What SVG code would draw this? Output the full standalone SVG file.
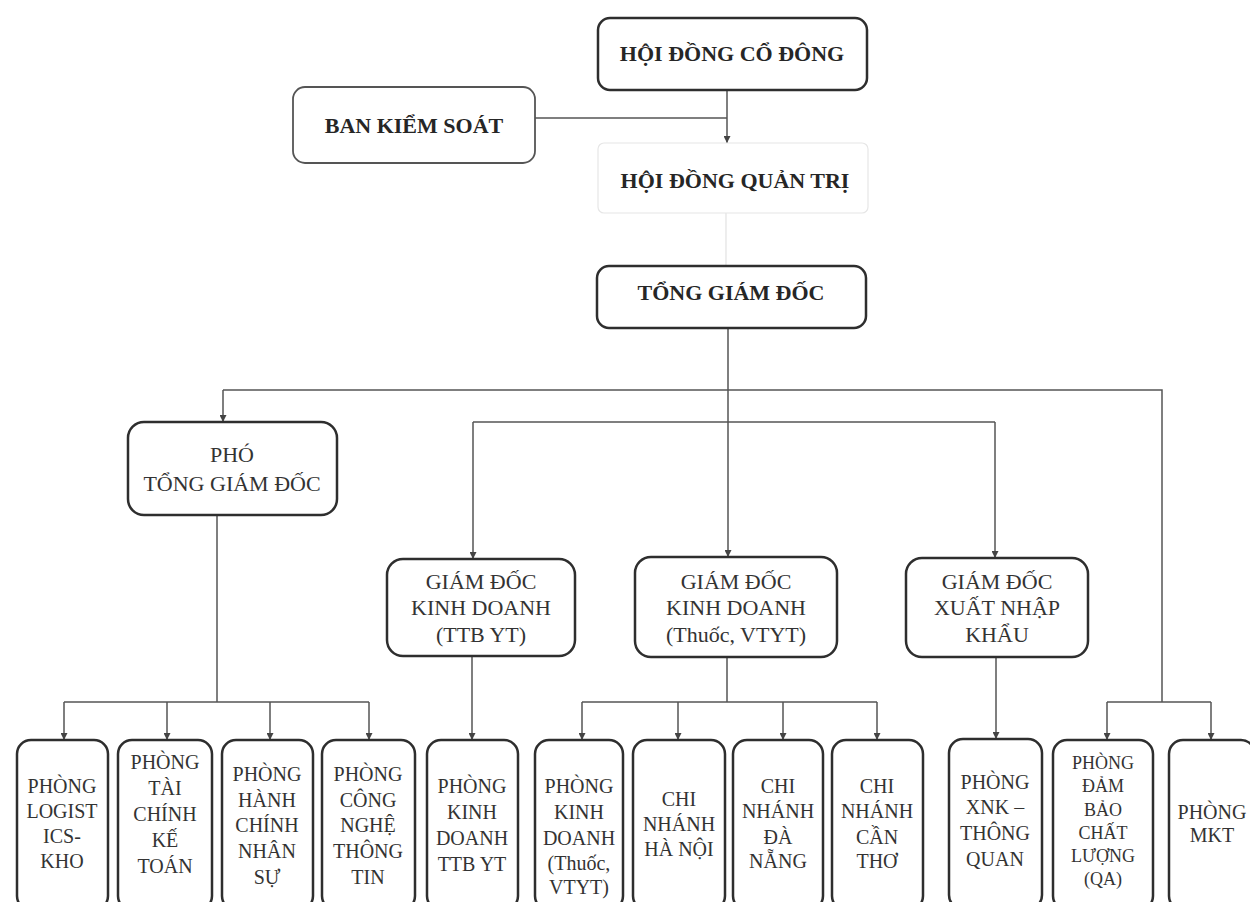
<svg xmlns="http://www.w3.org/2000/svg" width="1250" height="902" viewBox="0 0 1250 902">
<defs>
<style>
.box{fill:#fff;stroke:#2e2e2e;stroke-width:2.5}
.faint{fill:#fff;stroke:#e6e6e6;stroke-width:1.2}
.tb{font-family:"Liberation Serif","Times New Roman",serif;font-weight:bold;font-size:22px;fill:#262626;text-anchor:middle}
.tm{font-family:"Liberation Serif","Times New Roman",serif;font-size:22px;fill:#333;text-anchor:middle}
.ts{font-family:"Liberation Serif","Times New Roman",serif;font-size:20px;fill:#333;text-anchor:middle}
.tq{font-family:"Liberation Serif","Times New Roman",serif;font-size:18px;fill:#333;text-anchor:middle}
.ln{fill:none;stroke:#555;stroke-width:1.5}
.lf{fill:none;stroke:#e2e2e2;stroke-width:1.2}
</style>
<marker id="arr" viewBox="0 0 10 10" refX="10" refY="5" markerWidth="7" markerHeight="7" markerUnits="userSpaceOnUse" orient="auto">
<path d="M0,0 L10,5 L0,10 z" fill="#444"/>
</marker>
</defs>
<rect width="1250" height="902" fill="#fff"/>

<g id="connectors">
<path class="ln" d="M727,90 V143" marker-end="url(#arr)"/>
<path class="ln" d="M535,118 H727"/>
<path class="lf" d="M726,213 V266"/>
<path class="ln" d="M728,328 V557" marker-end="url(#arr)"/>
<path class="ln" d="M223,390 H1162 V702"/>
<path class="ln" d="M223,390 V422" marker-end="url(#arr)"/>
<path class="ln" d="M473,422 H995"/>
<path class="ln" d="M473,422 V559" marker-end="url(#arr)"/>
<path class="ln" d="M995,422 V558" marker-end="url(#arr)"/>
<path class="ln" d="M217,515 V702"/>
<path class="ln" d="M64,702 H369"/>
<path class="ln" d="M64,702 V740" marker-end="url(#arr)"/>
<path class="ln" d="M167,702 V740" marker-end="url(#arr)"/>
<path class="ln" d="M270,702 V740" marker-end="url(#arr)"/>
<path class="ln" d="M369,702 V740" marker-end="url(#arr)"/>
<path class="ln" d="M472,656 V740" marker-end="url(#arr)"/>
<path class="ln" d="M727,657 V702"/>
<path class="ln" d="M582,702 H877"/>
<path class="ln" d="M582,702 V740" marker-end="url(#arr)"/>
<path class="ln" d="M678,702 V740" marker-end="url(#arr)"/>
<path class="ln" d="M783,702 V740" marker-end="url(#arr)"/>
<path class="ln" d="M877,702 V740" marker-end="url(#arr)"/>
<path class="ln" d="M996,657 V739" marker-end="url(#arr)"/>
<path class="ln" d="M1107,702 H1211"/>
<path class="ln" d="M1107,702 V740" marker-end="url(#arr)"/>
<path class="ln" d="M1211,702 V740" marker-end="url(#arr)"/>
</g>

<g id="hdcd">
<rect class="box" x="598" y="18" width="269" height="72" rx="12"/>
<text class="tb" x="732" y="61">HỘI ĐỒNG CỔ ĐÔNG</text>
</g>
<g id="bks">
<rect class="box" x="293" y="87" width="242" height="76" rx="12" style="stroke:#555;stroke-width:1.8"/>
<text class="tb" x="414" y="133">BAN KIỂM SOÁT</text>
</g>
<g id="hdqt">
<rect class="faint" x="598" y="143" width="270" height="70" rx="6"/>
<text class="tb" x="735" y="188">HỘI ĐỒNG QUẢN TRỊ</text>
</g>
<g id="tgd">
<rect class="box" x="597" y="266" width="269" height="62" rx="12"/>
<text class="tb" x="731" y="300">TỔNG GIÁM ĐỐC</text>
</g>
<g id="ptgd">
<rect class="box" x="128" y="422" width="209" height="93" rx="16"/>
<text class="tm" x="232" y="462">PHÓ</text>
<text class="tm" x="232" y="491">TỔNG GIÁM ĐỐC</text>
</g>
<g id="gdkd-ttb">
<rect class="box" x="387" y="559" width="188" height="97" rx="16"/>
<text class="tm" x="481" y="589">GIÁM ĐỐC</text>
<text class="tm" x="481" y="615">KINH DOANH</text>
<text class="tm" x="481" y="642">(TTB YT)</text>
</g>
<g id="gdkd-thuoc">
<rect class="box" x="635" y="557" width="202" height="100" rx="16"/>
<text class="tm" x="736" y="589">GIÁM ĐỐC</text>
<text class="tm" x="736" y="615">KINH DOANH</text>
<text class="tm" x="736" y="642">(Thuốc, VTYT)</text>
</g>
<g id="gd-xnk">
<rect class="box" x="906" y="558" width="182" height="99" rx="16"/>
<text class="tm" x="997" y="589">GIÁM ĐỐC</text>
<text class="tm" x="997" y="615">XUẤT NHẬP</text>
<text class="tm" x="997" y="642">KHẨU</text>
</g>

<g id="p-logistics">
<rect class="box" x="17" y="740" width="91" height="170" rx="14"/>
<text class="ts" x="62" y="793">PHÒNG</text>
<text class="ts" x="62" y="818">LOGIST</text>
<text class="ts" x="62" y="843">ICS-</text>
<text class="ts" x="62" y="868">KHO</text>
</g>
<g id="p-taichinh">
<rect class="box" x="118" y="740" width="94" height="170" rx="14"/>
<text class="ts" x="165" y="769">PHÒNG</text>
<text class="ts" x="165" y="795">TÀI</text>
<text class="ts" x="165" y="821">CHÍNH</text>
<text class="ts" x="165" y="847">KẾ</text>
<text class="ts" x="165" y="873">TOÁN</text>
</g>
<g id="p-hanhchinh">
<rect class="box" x="222" y="740" width="91" height="170" rx="14"/>
<text class="ts" x="267" y="781">PHÒNG</text>
<text class="ts" x="267" y="807">HÀNH</text>
<text class="ts" x="267" y="832">CHÍNH</text>
<text class="ts" x="267" y="858">NHÂN</text>
<text class="ts" x="267" y="884">SỰ</text>
</g>
<g id="p-cntt">
<rect class="box" x="322" y="740" width="93" height="170" rx="14"/>
<text class="ts" x="368" y="781">PHÒNG</text>
<text class="ts" x="368" y="807">CÔNG</text>
<text class="ts" x="368" y="832">NGHỆ</text>
<text class="ts" x="368" y="858">THÔNG</text>
<text class="ts" x="368" y="884">TIN</text>
</g>
<g id="p-kd-ttb">
<rect class="box" x="427" y="740" width="91" height="170" rx="14"/>
<text class="ts" x="472" y="793">PHÒNG</text>
<text class="ts" x="472" y="819">KINH</text>
<text class="ts" x="472" y="845">DOANH</text>
<text class="ts" x="472" y="871">TTB YT</text>
</g>
<g id="p-kd-thuoc">
<rect class="box" x="535" y="740" width="88" height="170" rx="14"/>
<text class="ts" x="579" y="793">PHÒNG</text>
<text class="ts" x="579" y="819">KINH</text>
<text class="ts" x="579" y="845">DOANH</text>
<text class="ts" x="579" y="870">(Thuốc,</text>
<text class="ts" x="579" y="894">VTYT)</text>
</g>
<g id="cn-hanoi">
<rect class="box" x="633" y="740" width="92" height="170" rx="14"/>
<text class="ts" x="679" y="806">CHI</text>
<text class="ts" x="679" y="831">NHÁNH</text>
<text class="ts" x="679" y="856">HÀ NỘI</text>
</g>
<g id="cn-danang">
<rect class="box" x="733" y="740" width="90" height="170" rx="14"/>
<text class="ts" x="778" y="793">CHI</text>
<text class="ts" x="778" y="818">NHÁNH</text>
<text class="ts" x="778" y="844">ĐÀ</text>
<text class="ts" x="778" y="868">NẴNG</text>
</g>
<g id="cn-cantho">
<rect class="box" x="832" y="740" width="91" height="170" rx="14"/>
<text class="ts" x="877" y="793">CHI</text>
<text class="ts" x="877" y="818">NHÁNH</text>
<text class="ts" x="877" y="844">CẦN</text>
<text class="ts" x="877" y="868">THƠ</text>
</g>
<g id="p-xnk">
<rect class="box" x="949" y="739" width="93" height="170" rx="14"/>
<text class="ts" x="995" y="789">PHÒNG</text>
<text class="ts" x="995" y="814">XNK –</text>
<text class="ts" x="995" y="840">THÔNG</text>
<text class="ts" x="995" y="866">QUAN</text>
</g>
<g id="p-qa">
<rect class="box" x="1053" y="740" width="100" height="170" rx="14"/>
<text class="tq" x="1103" y="769">PHÒNG</text>
<text class="tq" x="1103" y="792">ĐẢM</text>
<text class="tq" x="1103" y="816">BẢO</text>
<text class="tq" x="1103" y="839">CHẤT</text>
<text class="tq" x="1103" y="862">LƯỢNG</text>
<text class="tq" x="1103" y="885">(QA)</text>
</g>
<g id="p-mkt">
<rect class="box" x="1169" y="740" width="86" height="170" rx="14"/>
<text class="ts" x="1212" y="819">PHÒNG</text>
<text class="ts" x="1212" y="842">MKT</text>
</g>
</svg>
